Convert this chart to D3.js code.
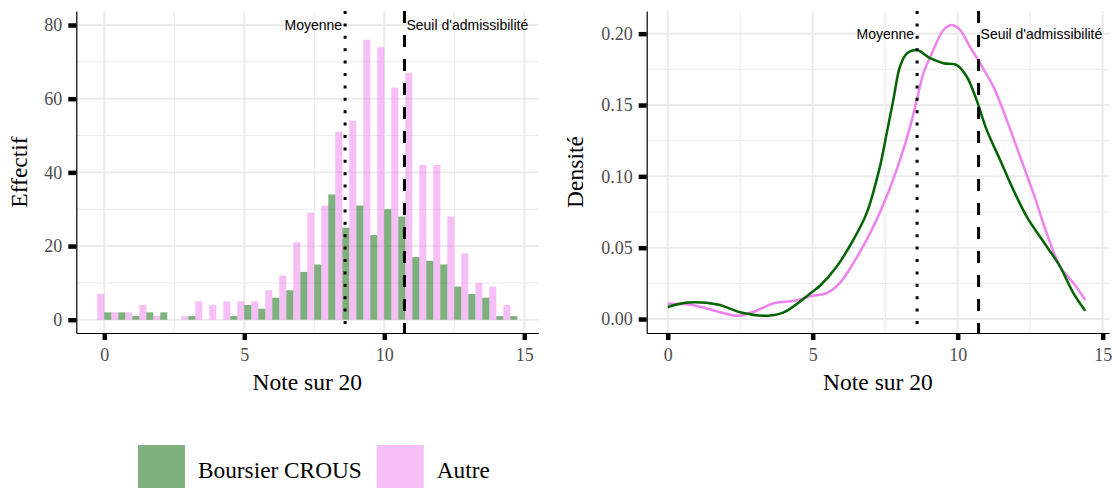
<!DOCTYPE html>
<html>
<head>
<meta charset="utf-8">
<script src="https://cdn.jsdelivr.net/npm/d3@7"></script>
<style>
  body { margin: 0; background: #fff; }
  svg { display: block; }
</style>
</head>
<body>
<svg></svg>
<script>
// bin centres of the histogram (binwidth 0.5)
const BINS = [0, 0.5, 1, 1.5, 2, 2.5, 3, 3.5, 4, 4.5, 5, 5.5, 6, 6.5, 7,
              7.5, 8, 8.5, 9, 9.5, 10, 10.5, 11, 11.5, 12, 12.5, 13, 13.5, 14, 14.5];
const AUTRE_COUNTS = [7, 2, 2, 4, 1, 0, 1, 5, 4, 5, 5, 5, 8, 12, 21,
                      29, 31, 51, 54, 76, 74, 63, 67, 42, 42, 28, 18, 10, 9, 4];
const CROUS_COUNTS = [2, 2, 1, 2, 2, 0, 1, 0, 0, 1, 4, 3, 6, 8, 13,
                      15, 34, 25, 31, 23, 30, 28, 17, 16, 15, 9, 7, 6, 1, 1];

// density curves
const CROUS_DX = [0, 0.69, 1.72, 2.53, 3.45, 4.0, 5.0, 5.25, 5.83, 6.4, 6.86, 7.32, 7.55, 7.78,
                  8.01, 8.24, 8.59, 9.05, 9.51, 9.97, 10.31, 10.65, 11.0, 11.46, 11.92, 12.38,
                  13.07, 13.53, 13.99, 14.4];
const CROUS_DY = [0.0084, 0.0116, 0.0102, 0.0046, 0.0023, 0.0046, 0.0193, 0.0233, 0.0368, 0.0555,
                  0.0742, 0.107, 0.130, 0.1536, 0.177, 0.186, 0.1886, 0.1828, 0.1793, 0.178,
                  0.170, 0.1536, 0.1326, 0.1116, 0.0905, 0.0718, 0.0508, 0.0368, 0.0182, 0.0058];
const AUTRE_DX = [0, 0.8, 1.72, 2.41, 2.99, 3.68, 4.37, 5.0, 5.48, 5.94, 6.4, 6.98, 7.55, 8.01,
                  8.36, 8.59, 8.82, 9.16, 9.51, 9.79, 10.08, 10.42, 10.77, 11.23, 11.69, 12.15,
                  12.61, 13.07, 13.53, 13.99, 14.4];
const AUTRE_DY = [0.0107, 0.010, 0.0053, 0.0023, 0.0053, 0.0112, 0.0128, 0.0163, 0.0182, 0.0254,
                  0.0392, 0.0602, 0.0859, 0.1116, 0.1349, 0.1536, 0.1723, 0.1886, 0.2026, 0.2061,
                  0.2026, 0.1909, 0.1793, 0.1629, 0.1396, 0.1139, 0.0882, 0.0602, 0.0368, 0.0252, 0.0135];

const MEAN = 8.6;
const SEUIL = 10.72;

const X_TICKS = [0, 5, 10, 15];
const X_MINOR = [2.5, 7.5, 12.5];
const COUNT_TICKS = [0, 20, 40, 60, 80];
const COUNT_MINOR = [10, 30, 50, 70];
const DENS_TICKS = [0, 0.05, 0.10, 0.15, 0.20];
const DENS_MINOR = [0.025, 0.075, 0.125, 0.175];

const LEGEND_LABELS = ['Boursier CROUS', 'Autre'];
const GREEN = '#006400';
const PINK = '#ee82ee';

const WIDTH = 1112;
const HEIGHT = 488;
const TOP = 11, BOTTOM = 333;
const SERIF = "'Liberation Serif', 'Times New Roman', serif";
const SANS = "'Liberation Sans', Arial, sans-serif";

const svg = d3.select('svg')
.attr('width', WIDTH)
.attr('height', HEIGHT);

// scales
const xLeft = d3.scaleLinear().domain([-1, 15.5]).range([76.3, 538.3]);
const yLeft = d3.scaleLinear().domain([-3.6, 83.8]).range([BOTTOM, TOP]);
const xRight = d3.scaleLinear().domain([-0.725, 15.225]).range([646.7, 1109.2]);
const yRight = d3.scaleLinear().domain([-0.0098, 0.2159]).range([BOTTOM, TOP]);

function drawGrid(g, x, y, xMajor, xMinor, yMajor, yMinor) {
  const [x0, x1] = x.range();
  g.selectAll('.vminor').data(xMinor).enter().append('line')
  .attr('x1', d => x(d)).attr('x2', d => x(d)).attr('y1', TOP).attr('y2', BOTTOM)
  .attr('stroke', '#ebebeb').attr('stroke-width', 1);
  g.selectAll('.hminor').data(yMinor).enter().append('line')
  .attr('x1', x0).attr('x2', x1).attr('y1', d => y(d)).attr('y2', d => y(d))
  .attr('stroke', '#ebebeb').attr('stroke-width', 1);
  g.selectAll('.vmajor').data(xMajor).enter().append('line')
  .attr('x1', d => x(d)).attr('x2', d => x(d)).attr('y1', TOP).attr('y2', BOTTOM)
  .attr('stroke', '#ebebeb').attr('stroke-width', 2);
  g.selectAll('.hmajor').data(yMajor).enter().append('line')
  .attr('x1', x0).attr('x2', x1).attr('y1', d => y(d)).attr('y2', d => y(d))
  .attr('stroke', '#ebebeb').attr('stroke-width', 2);
}

function drawAxes(x, y, yTicks, yFormat, yTitle, yTitleX) {
  const xa = svg.append('g')
  .attr('transform', `translate(0, ${BOTTOM})`)
  .call(d3.axisBottom(x).tickValues(X_TICKS).tickSize(7).tickSizeOuter(0).tickPadding(8));
  const ya = svg.append('g')
  .attr('transform', `translate(${x.range()[0]}, 0)`)
  .call(d3.axisLeft(y).tickValues(yTicks).tickFormat(yFormat).tickSize(8).tickSizeOuter(0).tickPadding(6));

  [xa, ya].forEach(a => {
    a.select('.domain').attr('stroke', '#000').attr('stroke-width', 1.2);
    a.selectAll('.tick line').attr('stroke', '#000').attr('stroke-width', 4.5);
    a.selectAll('.tick text')
    .attr('fill', '#4d4d4d')
    .style('font-family', SERIF)
    .style('font-size', '18px');
  });

  // axis titles
  svg.append('text')
  .text('Note sur 20')
  .attr('x', (x.range()[0] + x.range()[1]) / 2)
  .attr('y', 390)
  .attr('text-anchor', 'middle')
  .style('font-family', SERIF)
  .style('font-size', '23.5px');

  svg.append('text')
  .text(yTitle)
  .attr('transform', `translate(${yTitleX}, ${(TOP + BOTTOM) / 2}) rotate(-90)`)
  .attr('text-anchor', 'middle')
  .style('font-family', SERIF)
  .style('font-size', '23.5px');
}

function drawRefLines(x, y, labelValue) {
  svg.append('line')
  .attr('x1', x(MEAN)).attr('x2', x(MEAN)).attr('y1', TOP).attr('y2', BOTTOM)
  .attr('stroke', '#000').attr('stroke-width', 3)
  .attr('stroke-dasharray', '3,9.4');
  svg.append('line')
  .attr('x1', x(SEUIL)).attr('x2', x(SEUIL)).attr('y1', TOP).attr('y2', BOTTOM)
  .attr('stroke', '#000').attr('stroke-width', 3)
  .attr('stroke-dasharray', '12,12');

  svg.append('text')
  .text('Moyenne')
  .attr('x', x(MEAN) - 3)
  .attr('y', y(labelValue))
  .attr('dy', '0.35em')
  .attr('text-anchor', 'end')
  .style('font-family', SANS)
  .style('font-size', '14px');
  svg.append('text')
  .text("Seuil d'admissibilité")
  .attr('x', x(SEUIL) + 2)
  .attr('y', y(labelValue))
  .attr('dy', '0.35em')
  .attr('text-anchor', 'start')
  .style('font-family', SANS)
  .style('font-size', '14px');
}

//LEFT PANEL : histogram
const left = svg.append('g');
drawGrid(left, xLeft, yLeft, X_TICKS, X_MINOR, COUNT_TICKS, COUNT_MINOR);

left.selectAll('.autre')
.data(BINS)
.enter()
.append('rect')
.attr('x', d => xLeft(d - 0.25))
.attr('width', d => xLeft(d) - xLeft(d - 0.25))
.attr('y', (d, i) => yLeft(AUTRE_COUNTS[i]))
.attr('height', (d, i) => yLeft(0) - yLeft(AUTRE_COUNTS[i]))
.style('fill', PINK)
.style('fill-opacity', 0.5);

left.selectAll('.crous')
.data(BINS)
.enter()
.append('rect')
.attr('x', d => xLeft(d))
.attr('width', d => xLeft(d + 0.25) - xLeft(d))
.attr('y', (d, i) => yLeft(CROUS_COUNTS[i]))
.attr('height', (d, i) => yLeft(0) - yLeft(CROUS_COUNTS[i]))
.style('fill', GREEN)
.style('fill-opacity', 0.5);

drawRefLines(xLeft, yLeft, 80);
drawAxes(xLeft, yLeft, COUNT_TICKS, d3.format('d'), 'Effectif', 27);

//RIGHT PANEL : densities
const right = svg.append('g');
drawGrid(right, xRight, yRight, X_TICKS, X_MINOR, DENS_TICKS, DENS_MINOR);

const line = d3.line()
.x(d => xRight(d[0]))
.y(d => yRight(d[1]))
.curve(d3.curveCatmullRom.alpha(0.5));

right.append('path')
.attr('d', line(AUTRE_DX.map((v, i) => [v, AUTRE_DY[i]])))
.attr('fill', 'none')
.attr('stroke', PINK)
.attr('stroke-width', 2.5);

right.append('path')
.attr('d', line(CROUS_DX.map((v, i) => [v, CROUS_DY[i]])))
.attr('fill', 'none')
.attr('stroke', GREEN)
.attr('stroke-width', 2.5);

drawRefLines(xRight, yRight, 0.2);
drawAxes(xRight, yRight, DENS_TICKS, d3.format('.2f'), 'Densité', 583);

//LEGEND
const legend = svg.append('g');
let lx = 138;
LEGEND_LABELS.forEach((label, i) => {
  legend.append('rect')
  .attr('x', lx).attr('y', 445)
  .attr('width', 47).attr('height', 47)
  .style('fill', i === 0 ? GREEN : PINK)
  .style('fill-opacity', 0.5);
  const t = legend.append('text')
  .text(label)
  .attr('x', lx + 60)
  .attr('y', 478)
  .style('font-family', SERIF)
  .style('font-size', '23.3px');
  lx += 60 + t.node().getComputedTextLength() + 15;
});
</script>
</body>
</html>
